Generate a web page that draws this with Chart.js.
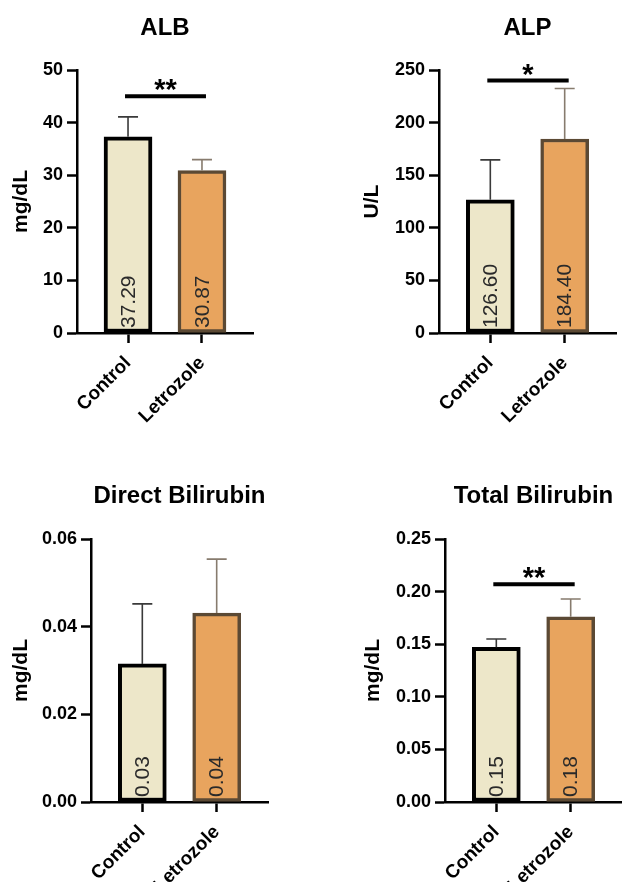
<!DOCTYPE html>
<html>
<head>
<meta charset="utf-8">
<script src="https://cdn.jsdelivr.net/npm/chart.js@4.4.1/dist/chart.umd.min.js"></script>
<style>
  html, body { margin: 0; padding: 0; background: #fff; }
  #wrap { position: relative; width: 622px; height: 889px; overflow: hidden; background: #fff; }
  canvas { position: absolute; }
</style>
</head>
<body>
<div id="wrap">
  <canvas id="c0" width="311" height="445" style="left:0;top:0"></canvas>
  <canvas id="c1" width="311" height="445" style="left:311px;top:0"></canvas>
  <canvas id="c2" width="311" height="444" style="left:0;top:445px"></canvas>
  <canvas id="c3" width="330" height="444" style="left:311px;top:445px"></canvas>
</div>
<script>
const groups = ['Control', 'Letrozole'];
const panelTitles = ['ALB', 'ALP', 'Direct Bilirubin', 'Total Bilirubin'];
const yTitles = ['mg/dL', 'U/L', 'mg/dL', 'mg/dL'];

const albMean = [37.29, 30.87];
const albSD = [3.8, 2.1];
const alpMean = [126.6, 184.4];
const alpSD = [38, 48];
const dbilMean = [0.0315, 0.0431];
const dbilSD = [0.0137, 0.0123];
const tbilMean = [0.147, 0.176];
const tbilSD = [0.008, 0.017];

const albTicks = [0, 10, 20, 30, 40, 50];
const alpTicks = [0, 50, 100, 150, 200, 250];
const dbilTicks = [0, 0.02, 0.04, 0.06];
const tbilTicks = [0, 0.05, 0.10, 0.15, 0.20, 0.25];
const tickDecimals = [0, 0, 2, 2];

const sigText = ['**', '*', '', '**'];
const sigLevel = [45, 240, null, 0.207];

const means = [albMean, alpMean, dbilMean, tbilMean];
const sds = [albSD, alpSD, dbilSD, tbilSD];
const ticksList = [albTicks, alpTicks, dbilTicks, tbilTicks];

// layout of each panel (pixels inside its canvas)
const layouts = [
  { pad: { left: 0, top: 70, right: 58, bottom: 12 }, yW: 77, xH: 100, titleY: 28 },
  { pad: { left: 40, top: 70, right: 6, bottom: 12 }, yW: 88, xH: 100, titleY: 28 },
  { pad: { left: 0, top: 94, right: 43, bottom: 7 }, yW: 91, xH: 80, titleY: 51 },
  { pad: { left: 41, top: 94, right: 19, bottom: 7 }, yW: 93, xH: 80, titleY: 51 }
];

const fillColors = ['#ede7c9', '#e8a45e'];
const edgeColors = ['#000000', '#5b4934'];
const errColors = ['#3a3a3a', '#877b6e'];
const FONT = '"Liberation Sans", Arial, Helvetica, sans-serif';

function axisGrid() {
  return {
    display: true,
    offset: false,
    drawOnChartArea: false,
    drawTicks: true,
    tickLength: 10,
    tickWidth: 2.5,
    tickColor: '#000'
  };
}

function makeChart(p) {
  const L = layouts[p];
  const mean = means[p];
  const sd = sds[p];
  const yt = ticksList[p];

  const extras = {
    id: 'extras' + p,
    afterDatasetsDraw(chart) {
      const ctx = chart.ctx;
      const ys = chart.scales.y;
      const xs = chart.scales.x;
      const area = chart.chartArea;
      const bars = chart.getDatasetMeta(0).data;
      ctx.save();
      // error bars (upper only)
      bars.forEach((el, i) => {
        const yErr = ys.getPixelForValue(mean[i] + sd[i]);
        ctx.strokeStyle = errColors[i];
        ctx.lineWidth = 1.6;
        ctx.beginPath();
        ctx.moveTo(el.x, el.y);
        ctx.lineTo(el.x, yErr);
        ctx.moveTo(el.x - 10, yErr);
        ctx.lineTo(el.x + 10, yErr);
        ctx.stroke();
      });
      // value labels inside bars
      bars.forEach((el, i) => {
        ctx.save();
        ctx.translate(el.x, area.bottom - 5);
        ctx.rotate(-Math.PI / 2);
        ctx.font = '21px ' + FONT;
        ctx.fillStyle = '#2a2a2a';
        ctx.textAlign = 'left';
        ctx.textBaseline = 'middle';
        ctx.fillText(mean[i].toFixed(2), 0, 1);
        ctx.restore();
      });
      // significance bracket
      if (sigLevel[p] !== null) {
        const yb = ys.getPixelForValue(sigLevel[p]);
        const x0 = xs.getPixelForValue(0) - 3;
        const x1 = xs.getPixelForValue(1) + 4;
        ctx.strokeStyle = '#000';
        ctx.lineWidth = 4;
        ctx.beginPath();
        ctx.moveTo(x0, yb);
        ctx.lineTo(x1, yb);
        ctx.stroke();
        ctx.font = 'bold 29px ' + FONT;
        ctx.fillStyle = '#000';
        ctx.textAlign = 'center';
        ctx.textBaseline = 'alphabetic';
        ctx.fillText(sigText[p], (x0 + x1) / 2, yb + 3);
      }
      // panel title
      ctx.font = 'bold 24px ' + FONT;
      ctx.fillStyle = '#000';
      ctx.textAlign = 'center';
      ctx.textBaseline = 'middle';
      ctx.fillText(panelTitles[p], (area.left + area.right) / 2, L.titleY);
      ctx.restore();
    }
  };

  return new Chart(document.getElementById('c' + p), {
    type: 'bar',
    data: {
      datasets: [{
        data: groups.map((g, i) => ({ x: i, y: mean[i] })),
        backgroundColor: fillColors,
        borderColor: edgeColors,
        borderWidth: [4, 3.5],
        borderSkipped: false,
        barThickness: 48
      }]
    },
    options: {
      responsive: false,
      animation: false,
      layout: { padding: L.pad },
      plugins: { legend: { display: false }, tooltip: { enabled: false } },
      scales: {
        x: {
          type: 'linear',
          offset: false,
          min: -0.69,
          max: 1.69,
          afterBuildTicks: s => { s.ticks = [{ value: 0 }, { value: 1 }]; },
          afterFit: s => { s.height = L.xH; },
          ticks: {
            autoSkip: false,
            minRotation: 45,
            maxRotation: 45,
            padding: 9,
            color: '#000',
            font: { family: FONT, size: 19, weight: 'bold' },
            callback: v => groups[v]
          },
          grid: axisGrid(),
          border: { display: true, width: 2.5, color: '#000' }
        },
        y: {
          min: 0,
          max: yt[yt.length - 1],
          afterBuildTicks: s => { s.ticks = yt.map(v => ({ value: v })); },
          afterFit: s => { s.width = L.yW; },
          ticks: {
            padding: 4,
            color: '#000',
            font: { family: FONT, size: 18, weight: 'bold' },
            callback: v => Number(v).toFixed(tickDecimals[p])
          },
          grid: axisGrid(),
          border: { display: true, width: 2.5, color: '#000' },
          title: {
            display: true,
            text: yTitles[p],
            color: '#000',
            font: { family: FONT, size: 21, weight: 'bold' },
            padding: { top: 9, bottom: 0 }
          }
        }
      }
    },
    plugins: [extras]
  });
}

[0, 1, 2, 3].forEach(makeChart);
</script>
</body>
</html>
